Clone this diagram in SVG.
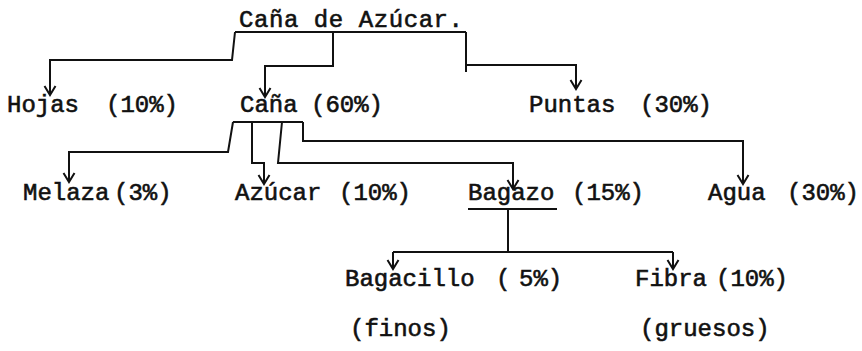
<svg xmlns="http://www.w3.org/2000/svg" width="862" height="351" viewBox="0 0 862 351">
<defs>
<style>
.t{font-family:"Liberation Mono","DejaVu Sans Mono",monospace;font-size:24px;fill:#111;stroke:#111;stroke-width:0.6px;}
.c{fill:none;stroke:#111;stroke-width:2;stroke-linejoin:miter;}
.a{marker-end:url(#ah);}
</style>
<marker id="ah" viewBox="-10 -7 12 14" refX="0" refY="0" markerWidth="12" markerHeight="14" markerUnits="userSpaceOnUse" orient="auto">
<path d="M-9,-5.5 L0,0 L-9,5.5" fill="none" stroke="#111" stroke-width="2"/>
</marker>
</defs>
<rect width="862" height="351" fill="#fff"/>
<g id="connectors">
<path class="c" d="M235,32 H466"/>
<path class="c a" d="M235,32 L232,60 H50 V95"/>
<path class="c a" d="M333,32 V66 H265 V97"/>
<path class="c" d="M466,32 V72"/>
<path class="c a" d="M466,65 H576 V89"/>
<path class="c" d="M233,122 H303"/>
<path class="c a" d="M233,122 L228,152 H69 V182"/>
<path class="c a" d="M252,122 V163 H264 V184"/>
<path class="c a" d="M282,122 L278,163 H513 V189"/>
<path class="c a" d="M303,122 V141 H743 V184"/>
<path class="c" d="M468,209 H557"/>
<path class="c" d="M508,209 V252"/>
<path class="c" d="M393,252 H673"/>
<path class="c a" d="M393,252 V269"/>
<path class="c a" d="M673,252 V269"/>
</g>
<g id="cana-de-azucar"><text class="t" x="239" y="27" textLength="224" lengthAdjust="spacing">Caña de Azúcar.</text></g>
<g id="hojas"><text class="t" y="112"><tspan x="7">Hojas</tspan> <tspan x="106">(10%)</tspan></text></g>
<g id="cana"><text class="t" y="112"><tspan x="240">Caña</tspan> <tspan x="311">(60%)</tspan></text></g>
<g id="puntas"><text class="t" y="112"><tspan x="529">Puntas</tspan> <tspan x="640">(30%)</tspan></text></g>
<g id="melaza"><text class="t" y="200"><tspan x="23">Melaza</tspan> <tspan x="114">(3%)</tspan></text></g>
<g id="azucar"><text class="t" y="200"><tspan x="235">Azúcar</tspan> <tspan x="339">(10%)</tspan></text></g>
<g id="bagazo"><text class="t" y="200"><tspan x="468">Bagazo</tspan> <tspan x="572">(15%)</tspan></text></g>
<g id="agua"><text class="t" y="200"><tspan x="708">Agua</tspan> <tspan x="787">(30%)</tspan></text></g>
<g id="bagacillo"><text class="t" y="286"><tspan x="345">Bagacillo</tspan> <tspan x="496">(</tspan> <tspan x="519">5%)</tspan></text><text class="t" x="350" y="336">(finos)</text></g>
<g id="fibra"><text class="t" y="286"><tspan x="635">Fibra</tspan> <tspan x="716">(10%)</tspan></text><text class="t" x="640" y="336">(gruesos)</text></g>
</svg>
